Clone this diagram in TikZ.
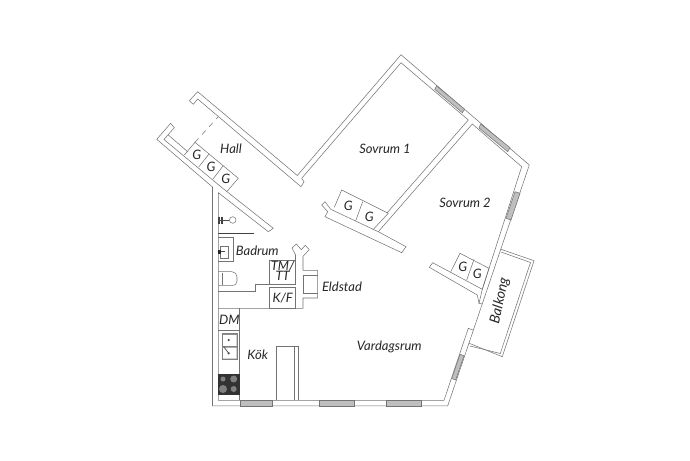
\documentclass[tikz,border=0pt]{standalone}
\usepackage{fontspec}
\setmainfont{Lato}
\usepackage{tikz}

\tikzset{
  wall/.style={draw=black!55,line width=0.3pt},
  pane/.style={draw=black!55,line width=0.3pt,fill=black!25},
  room/.style={font=\itshape\fontsize{7.4}{9}\selectfont,text=black!85,inner sep=0pt},
  gbox/.style={font=\itshape\fontsize{7.4}{8}\selectfont,text=black!85,inner sep=0pt}
}

\begin{document}
\begin{tikzpicture}[x=0.02cm,y=-0.02cm]
      \useasboundingbox (0,0) rectangle (690,460);
      \fill[white] (0,0) rectangle (690,460);

      % balcony
      \draw[wall] (501,249.3) -- (534,260.7) -- (502.3,356.7) -- (469.3,343.3);
      \draw[wall] (501,252) -- (530.5,262.5) -- (500.3,353.5) -- (470,346);

      % outer face
      \draw[wall] (189.3,100.7) -- (197.7,91.7) -- (297.3,175.5) -- (401,54.7) -- (529.3,165) -- (447.7,405.9)
        -- (212.5,405.9) -- (212.5,187) -- (156.7,139.3) -- (170.7,123.3) -- (174.3,127.7) -- (164,139.5)
        -- (222,187.7) -- (273.3,228.3) -- (268.3,231.7) -- (218.3,192.7) -- (218.3,400.3) -- (444,400.3)
        -- (468.3,328.3) -- (472.7,330);
      \draw[wall] (189.3,100.7) -- (193.3,104.3) -- (197.7,99) -- (301,186.7) -- (304,181.7) -- (301.7,178.3)
        -- (401,62.7) -- (468.3,120) -- (386.7,213.3);
      \draw[wall] (521.7,166.7) -- (472.3,124) -- (378.3,231.7);
      \draw[wall] (521.7,166.7) -- (482.3,289.3);

      % hall closet
      \draw[wall] (168.3,135) -- (188,152);
      \draw[wall] (184.3,155) -- (195,142.3) -- (238.3,178.3) -- (226.7,191.7);
      \draw[wall] (198.7,167) -- (209,154);
      \draw[wall] (213,179) -- (223,166);
      \draw[wall,dashed] (195,142.3) -- (218.3,116.7);

      % bedroom walls
      \draw[wall] (321.7,205) -- (325,201.7) -- (330.7,209.3) -- (378.3,231.7) -- (406,246.7) -- (401.7,252.7)
        -- (325,216.7) -- (327.7,211.7) -- cycle;
      \draw[wall] (334.3,207.3) -- (341.7,190) -- (388.3,213.3) -- (372.7,230);
      \draw[wall] (362.7,201.7) -- (355.7,220.7);
      \draw[wall] (432.7,262.7) -- (482.3,289.3) -- (479,303.3) -- (482.3,304);
      \draw[wall] (432.7,262.7) -- (429.3,267.3) -- (477.3,295) -- (479,303.3);
      \draw[wall] (450.7,271.7) -- (460,253.3) -- (489,268.3) -- (482.3,289.3);
      \draw[wall] (474,259.5) -- (466.7,280);

      % windows
      \draw[pane] (436.7,86) -- (464.7,109.3) -- (462.3,112.7) -- (434.7,89.3) -- cycle;
      \draw[pane] (480.7,124) -- (510,147.7) -- (507.7,151.7) -- (479,128) -- cycle;
      \draw[pane] (515,191.7) -- (520,193.3) -- (511,220) -- (506,218.3) -- cycle;
      \draw[pane] (460,354.3) -- (464,355.7) -- (455.7,380) -- (451.7,378.7) -- cycle;
      \draw[pane] (240.7,400.3) rectangle (272.7,405.9);
      \draw[pane] (319.3,400.3) rectangle (354.3,405.9);
      \draw[pane] (386,400.3) rectangle (421.7,405.9);

      % core walls
      \draw[wall] (218.3,291) -- (255,291) -- (255,284) -- (269.3,284);
      \draw[wall] (269.3,260.7) rectangle (295.5,284);
      \draw[wall] (269.3,287.3) rectangle (295.5,308.3);
      \draw[wall] (218.3,308.3) -- (303,308.3) -- (303,298) -- (317.7,298) -- (317.7,270.3) -- (303,270.3) -- (303,256.3)
        -- (309.3,249.7) -- (305.3,245.3) -- (301.3,249.7) -- (296.3,244) -- (292,248) -- (295.5,254.7) -- (295.5,260.7);
      \draw[wall] (303.7,275.3) -- (317.7,275.3);
      \draw[wall] (303.7,275.3) -- (303.7,293.7) -- (317.7,293.7);
      \draw[wall] (276,400.3) -- (276,346.7) -- (298.3,346.7) -- (298.3,400.3);
      \draw[wall] (294.3,346.7) -- (294.3,400.3);

      % kitchen
      \draw[wall] (239.5,308.3) -- (239.5,400.3);
      \draw[wall] (218.3,330) -- (239.5,330);
      \fill[black!50] (221.7,333.3) rectangle (238,360);
      \fill[white] (223.2,334.8) rectangle (236.5,345.8) (223.2,347.6) rectangle (236.5,358.5);
      \fill[black!75] (228.7,340) circle (1.2) (228.7,353.3) circle (1.2);
      \draw[draw=black!70,line width=0.4pt] (223.7,346.7) -- (228.7,353.3);
      \fill[black!80] (218.3,374.3) rectangle (239.5,395);
      \fill[black!50] (223,379) circle (2.5) (233.7,379) circle (3.5) (223,389) circle (4) (233.7,389) circle (3);

      % bathroom
      \draw[draw=black!75,line width=0.4pt] (218.3,233.3) -- (253.7,233.3);
      \draw[draw=black!75,line width=0.7pt] (219,216.5) -- (219,223.5) (222,216.5) -- (222,223.5);
      \draw[draw=black!70,line width=0.3pt] (218.3,220) -- (229.4,220);
      \draw[wall] (232.7,220) circle (3.3);
      \draw[wall] (218.3,237.7) -- (233,237.7) -- (233,261.7) -- (218.3,261.7);
      \draw[wall] (220.3,246.7) rectangle (228.7,258.3);
      \fill[black!85] (218,249.5) rectangle (220.5,254);
      \draw[draw=black!70,line width=0.3pt] (220.5,251.7) -- (225,251.7);
      \draw[wall] (218.3,271.7) -- (232,271.7) .. controls (235,272) and (237,274) .. (237,277)
        -- (237,281) .. controls (237,284) and (235,285.7) .. (232,285.7) -- (218.3,285.7);
      \draw[wall] (222.3,272.5) -- (222.3,285);

      \node[room] (hall) at (231,149) {Hall};
      \node[room] (sovrum1) at (385,149.3) {Sovrum 1};
      \node[room] (sovrum2) at (465,203.3) {Sovrum 2};
      \node[room] (badrum) at (257.3,251) {Badrum};
      \node[room] (eldstad) at (342,287) {Eldstad};
      \node[room] (kok) at (257.7,355) {Kök};
      \node[room] (vardagsrum) at (389.3,346.7) {Vardagsrum};
      \node[room,rotate=78,font=\itshape\fontsize{8}{9}\selectfont] (balkong) at (500,300.7) {Balkong};
      \node[room] (dm) at (229.3,320) {DM};
      \node[room] (tm) at (282.7,266.3) {TM/};
      \node[room] (tt) at (282.7,276.3) {TT};
      \node[room] (kf) at (282.7,298.3) {K/F};
      \node[gbox] (g1) at (196.7,155) {G};
      \node[gbox] (g2) at (211,167.3) {G};
      \node[gbox] (g3) at (225.7,179.3) {G};
      \node[gbox] (g4) at (348.3,205.7) {G};
      \node[gbox] (g5) at (369.3,216.7) {G};
      \node[gbox] (g6) at (462.7,267.3) {G};
      \node[gbox] (g7) at (477.3,274) {G};
    \end{tikzpicture}
\end{document}
